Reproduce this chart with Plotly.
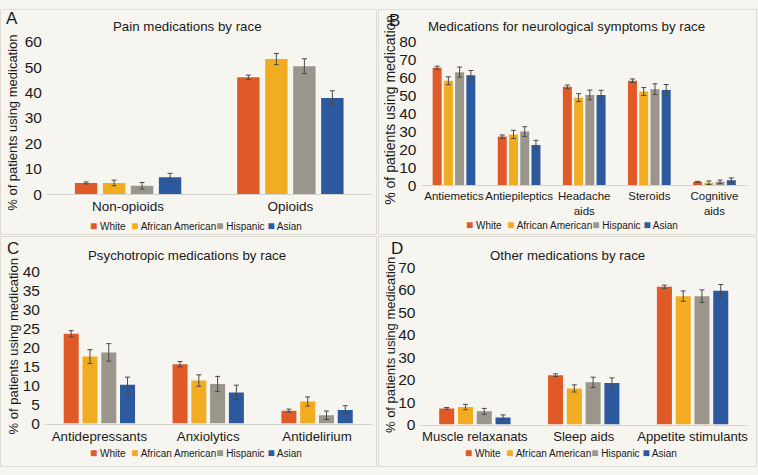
import plotly.graph_objects as go

W, H = 758, 475

races = ["White", "African American", "Hispanic", "Asian"]
race_colors = ["#E05A28", "#F2AC22", "#9A968C", "#2D5A9E"]

# Panel A: pain medications
pain_cats = ["Non-opioids", "Opioids"]
pain_white = [4.4, 46.0]
pain_aa = [4.4, 53.2]
pain_hisp = [3.3, 50.4]
pain_asian = [6.6, 37.9]
pain_white_err = [0.4, 0.9]
pain_aa_err = [1.1, 2.2]
pain_hisp_err = [1.3, 2.9]
pain_asian_err = [1.6, 2.8]

# Panel B: neurological symptoms
neuro_cats = ["Antiemetics", "Antiepileptics", "Headache<br>aids", "Steroids", "Cognitive<br>aids"]
neuro_white = [65.6, 27.2, 54.9, 58.3, 2.0]
neuro_aa = [58.3, 28.4, 48.9, 52.3, 1.5]
neuro_hisp = [63.1, 30.0, 50.4, 53.6, 2.0]
neuro_asian = [61.3, 22.5, 50.4, 53.2, 2.9]
neuro_white_err = [0.8, 0.9, 1.0, 1.0, 0.3]
neuro_aa_err = [2.2, 2.3, 2.2, 2.2, 1.0]
neuro_hisp_err = [2.8, 2.7, 2.7, 3.0, 1.0]
neuro_asian_err = [2.7, 2.6, 2.6, 3.0, 1.3]

# Panel C: psychotropic
psych_cats = ["Antidepressants", "Anxiolytics", "Antidelirium"]
psych_white = [23.6, 15.6, 3.4]
psych_aa = [17.6, 11.3, 5.8]
psych_hisp = [18.7, 10.4, 2.2]
psych_asian = [10.2, 8.2, 3.6]
psych_white_err = [0.8, 0.7, 0.4]
psych_aa_err = [1.8, 1.5, 1.2]
psych_hisp_err = [2.3, 2.0, 1.1]
psych_asian_err = [2.0, 1.9, 1.1]

# Panel D: other
other_cats = ["Muscle relaxanats", "Sleep aids", "Appetite stimulants"]
other_white = [7.2, 22.0, 61.4]
other_aa = [7.8, 16.1, 57.2]
other_hisp = [5.9, 18.8, 57.2]
other_asian = [3.2, 18.5, 59.6]
other_white_err = [0.4, 0.6, 0.7]
other_aa_err = [1.2, 1.6, 2.3]
other_hisp_err = [1.3, 2.3, 2.8]
other_asian_err = [1.1, 2.3, 2.8]

panels = [
    dict(cats=pain_cats, vals=[pain_white, pain_aa, pain_hisp, pain_asian],
         errs=[pain_white_err, pain_aa_err, pain_hisp_err, pain_asian_err],
         ax="", xdom=(47, 372), y0=192, ytop=34, yr=60, dt=10, catfont=13.5,
         title="Pain medications by race", tx=188, ty=18, letter="A", lx=12, ly=10,
         legx=196, legy=225, ytx=13, yty=118, ytfs=13),
    dict(cats=neuro_cats, vals=[neuro_white, neuro_aa, neuro_hisp, neuro_asian],
         errs=[neuro_white_err, neuro_aa_err, neuro_hisp_err, neuro_asian_err],
         ax="2", xdom=(422, 748), y0=183, ytop=34, yr=80, dt=10, catfont=11.5,
         title="Medications for neurological symptoms by race", tx=567, ty=18, letter="B", lx=395, ly=12,
         legx=573, legy=224, ytx=391, yty=104, ytfs=14),
    dict(cats=psych_cats, vals=[psych_white, psych_aa, psych_hisp, psych_asian],
         errs=[psych_white_err, psych_aa_err, psych_hisp_err, psych_asian_err],
         ax="3", xdom=(45, 372), y0=430, ytop=272, yr=40, dt=5, catfont=13.3,
         title="Psychotropic medications by race", tx=187, ty=256, letter="C", lx=13, ly=248,
         legx=196, legy=460, ytx=13, yty=350, ytfs=13),
    dict(cats=other_cats, vals=[other_white, other_aa, other_hisp, other_asian],
         errs=[other_white_err, other_aa_err, other_hisp_err, other_asian_err],
         ax="4", xdom=(421, 748), y0=431, ytop=268, yr=70, dt=10, catfont=13.1,
         title="Other medications by race", tx=568, ty=256, letter="D", lx=398, ly=248,
         legx=572, legy=460, ytx=391, yty=348, ytfs=13),
]

fig = go.Figure()
annotations = []
shapes = []
layout = {}
FONT = "Liberation Sans, Arial, sans-serif"

def px(x):
    return x / W

def py(y):
    return 1 - y / H

for p in panels:
    ax = p["ax"]
    for i, r in enumerate(races):
        fig.add_trace(go.Bar(
            x=p["cats"], y=p["vals"][i], name=r, showlegend=False,
            marker=dict(color=race_colors[i], line=dict(width=0)),
            error_y=dict(type="data", array=p["errs"][i], color="#4a4a4a", thickness=1, width=2.5),
            xaxis="x" + ax, yaxis="y" + ax,
        ))
    layout["xaxis" + ax] = dict(
        domain=[px(p["xdom"][0]), px(p["xdom"][1])], anchor="y" + ax,
        showline=True, linecolor="#d4d2cc", linewidth=1, ticks="", showgrid=False,
        tickangle=0,
        tickfont=dict(size=p["catfont"], color="#1a1a1a", family=FONT), zeroline=False,
        fixedrange=True,
    )
    layout["yaxis" + ax] = dict(
        domain=[py(p["y0"]), py(p["ytop"])], anchor="x" + ax,
        range=[0, p["yr"]], dtick=p["dt"], tick0=0, showgrid=False, zeroline=False,
        showline=False, ticks="", tickfont=dict(size=15.5, color="#1a1a1a", family=FONT),
        ticklabelstandoff=4, fixedrange=True,
    )
    annotations.append(dict(x=px(p["tx"]), y=py(p["ty"]), xref="paper", yref="paper",
                            text=p["title"], showarrow=False, xanchor="center", yanchor="middle",
                            font=dict(size=13.3, color="#1a1a1a", family=FONT)))
    annotations.append(dict(x=px(p["lx"]), y=py(p["ly"]), xref="paper", yref="paper",
                            text=p["letter"], showarrow=False, xanchor="center", yanchor="middle",
                            font=dict(size=17, color="#1a1a1a", family=FONT)))
    annotations.append(dict(x=px(p["ytx"]), y=py(p["yty"]), xref="paper", yref="paper",
                            text="% of patients using medication", textangle=-90, showarrow=False,
                            xanchor="center", yanchor="middle",
                            font=dict(size=p["ytfs"], color="#1a1a1a", family=FONT)))
    sq = '<span style="color:{c};font-size:12px">■</span>'
    leg = (sq.format(c=race_colors[0]) + " White  " +
           sq.format(c=race_colors[1]) + " African American" +
           sq.format(c=race_colors[2]) + " Hispanic " +
           sq.format(c=race_colors[3]) + " Asian")
    annotations.append(dict(x=px(p["legx"]), y=py(p["legy"]), xref="paper", yref="paper",
                            text=leg, showarrow=False, xanchor="center", yanchor="middle",
                            font=dict(size=10, color="#1a1a1a", family=FONT)))

# faint panel frames
for (x0, y0, x1, y1) in [(0.5, 0.5, 377, 234), (379, 0.5, 757.5, 234), (0.5, 236, 377, 474.5), (379, 236, 757.5, 474.5)]:
    shapes.append(dict(type="rect", xref="paper", yref="paper", x0=px(x0), x1=px(x1),
                       y0=py(y1), y1=py(y0), line=dict(color="#dedbd2", width=1), layer="below"))

fig.update_layout(
    width=W, height=H, margin=dict(l=0, r=0, t=0, b=0),
    paper_bgcolor="#f7f5f0", plot_bgcolor="rgba(0,0,0,0)",
    barmode="group", bargap=0.31, bargroupgap=0.2,
    font=dict(family=FONT, color="#1a1a1a"),
    annotations=annotations, shapes=shapes, showlegend=False,
    **layout,
)

fig.write_html("out.html", config={"displayModeBar": False},
               post_script="document.body.style.margin='0';document.body.style.padding='0';"
                           "document.body.style.background='#f7f5f0';")
